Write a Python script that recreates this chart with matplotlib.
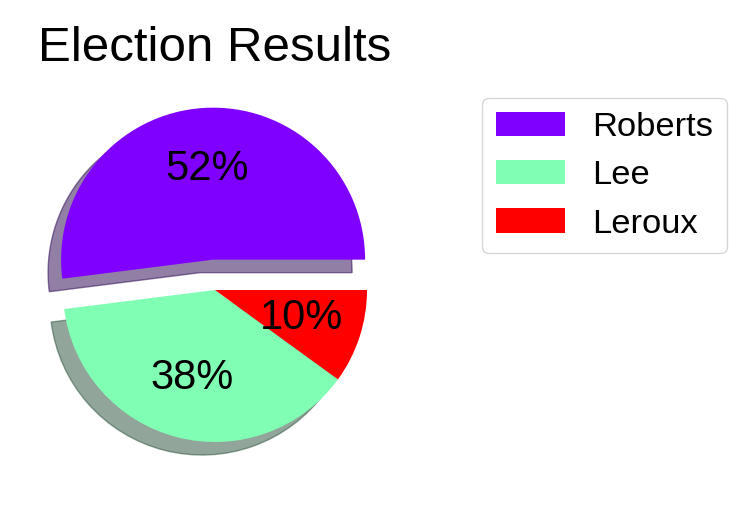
import matplotlib
matplotlib.use("Agg")
import matplotlib.pyplot as plt

plt.rcParams['font.family'] = ['Liberation Sans', 'DejaVu Sans']

# data
candidates = ['Roberts', 'Lee', 'Leroux']
votes = [52, 38, 10]
colors = ['#8000ff', '#80ffb4', '#ff0000']
explode = [0.2, 0, 0]

W, H = 750, 505
fig = plt.figure(figsize=(W / 100, H / 100), dpi=100)

# pie centre at (215, 290) px, radius 152 px -> axes spans 2.5 radii
ax = fig.add_axes([25 / W, 25 / H, 380 / W, 380 / H])

wedges, texts, autotexts = ax.pie(
    votes, labels=None, colors=colors, explode=explode,
    autopct='%1.0f%%', pctdistance=0.6,
    shadow={'ox': -0.0616, 'oy': -0.0616},
    textprops={'fontsize': 30})

ax.set_xlim(-1.25, 1.25)
ax.set_ylim(-1.25, 1.25)
ax.set_aspect('equal')

ax.set_title('Election Results', fontsize=35.5, pad=28)

fig.legend(wedges, candidates, loc='upper left',
           bbox_to_anchor=(482 / W, (H - 98) / H), borderaxespad=0,
           fontsize=24.8, labelspacing=0.5)

fig.savefig('out.png', dpi=100)
